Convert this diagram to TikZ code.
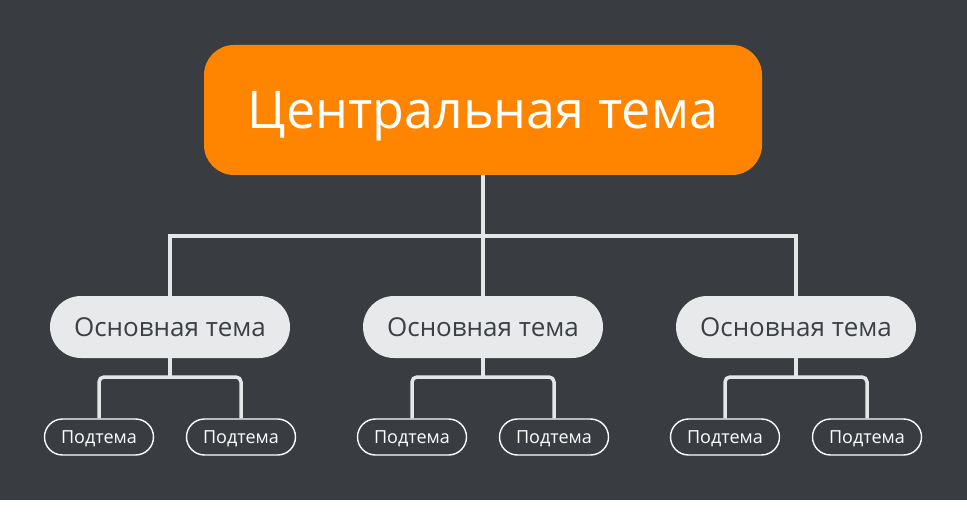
\documentclass[tikz,border=0pt]{standalone}
\usepackage{fontspec}
\setmainfont{Open Sans}
\usetikzlibrary{positioning}
\definecolor{bgdark}{HTML}{393C41}
\definecolor{topicorange}{HTML}{FF8500}
\definecolor{mainfill}{HTML}{E8E9EB}
\definecolor{maintext}{HTML}{3C3F44}
\definecolor{linegray}{HTML}{E4E6E8}

\begin{document}
\begin{tikzpicture}[x=1pt,y=-1pt,
		central/.style={fill=topicorange, rounded corners=30pt, minimum width=558pt, minimum height=130pt, inner sep=0pt, text depth=0pt, text=white, font=\fontsize{52}{58}\selectfont},
		maintopic/.style={fill=mainfill, rounded corners=31pt, minimum width=240pt, minimum height=62pt, inner sep=0pt, text depth=0pt, text=maintext, font=\fontsize{26}{30}\selectfont},
		subtopic/.style={draw=white, line width=1.4pt, fill=bgdark, rounded corners=18pt, minimum width=109pt, minimum height=36pt, inner sep=0pt, text depth=0pt, text=white, font=\fontsize{18}{22}\selectfont},
		branch/.style={draw=linegray, line width=4.5pt},
		twig/.style={draw=linegray, line width=3.5pt, rounded corners=5pt}]
		\fill[bgdark] (0,0) rectangle (967,500);
		\useasboundingbox (0,0) rectangle (967,516);

		\node[central] (central) at (483,110) {Центральная тема};

		\node[maintopic] (m1) at (170,327) {Основная тема};
		\node[maintopic] (m2) at (483,327) {Основная тема};
		\node[maintopic] (m3) at (796,327) {Основная тема};

		\node[subtopic] (s11) at (99,437) {Подтема};
		\node[subtopic] (s12) at (241,437) {Подтема};
		\node[subtopic] (s21) at (412,437) {Подтема};
		\node[subtopic] (s22) at (554,437) {Подтема};
		\node[subtopic] (s31) at (725,437) {Подтема};
		\node[subtopic] (s32) at (867,437) {Подтема};

		\coordinate (bus) at (483,236);
		\coordinate (j1) at (170,377);
		\coordinate (j2) at (483,377);
		\coordinate (j3) at (796,377);

		\draw[branch] (central.south) -- (m2.north);
		\draw[branch] (m1.north) |- (bus) -| (m3.north);

		\draw[twig] (m1.south) -- (j1);
		\draw[twig] (s11.north) |- (j1) -| (s12.north);
		\draw[twig] (m2.south) -- (j2);
		\draw[twig] (s21.north) |- (j2) -| (s22.north);
		\draw[twig] (m3.south) -- (j3);
		\draw[twig] (s31.north) |- (j3) -| (s32.north);
	\end{tikzpicture}
\end{document}
